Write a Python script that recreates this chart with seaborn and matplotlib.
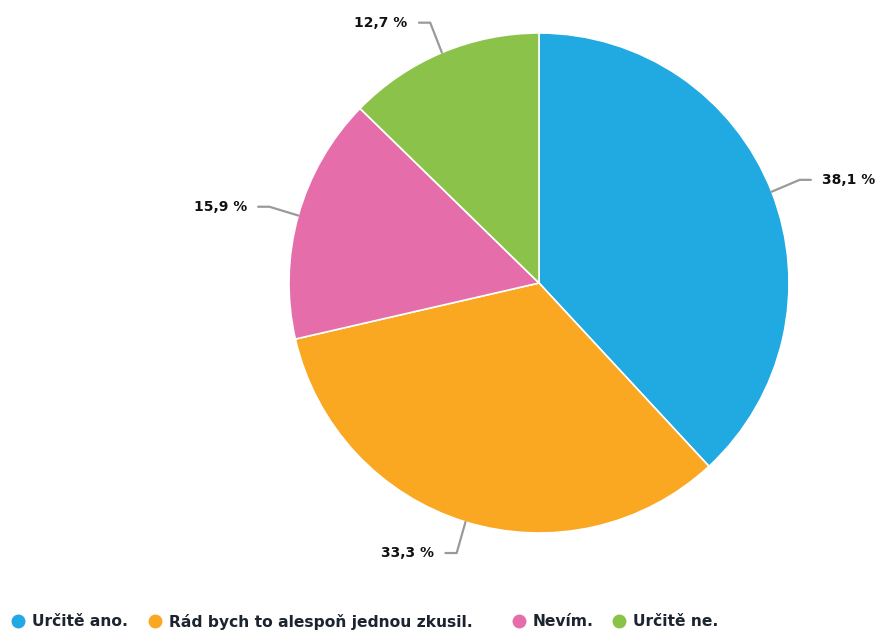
import numpy as np
import matplotlib
matplotlib.use("Agg")
import matplotlib.pyplot as plt
from matplotlib.lines import Line2D
import seaborn as sns

# Survey answers and their shares (percent)
categories = ["Určitě ano.", "Rád bych to alespoň jednou zkusil.", "Nevím.", "Určitě ne."]
shares = [38.1, 33.3, 15.9, 12.7]
colors = ["#21a9e1", "#faa822", "#e56eaa", "#8bc34a"]
# horizontal pixel position of each legend marker
legend_x = [18, 155, 519, 619]

sns.set_theme(style="white")
plt.rcParams["font.family"] = ["DejaVu Sans"]

W, H = 879, 633
fig = plt.figure(figsize=(W / 100, H / 100), dpi=100)
ax = fig.add_axes([0, 0, 1, 1])

wedges, _ = ax.pie(
    shares,
    colors=colors,
    startangle=90,
    counterclock=False,
    radius=1.0,
    wedgeprops=dict(edgecolor="white", linewidth=1.2),
)

# Data limits so the pie sits right of centre with room for the legend below
ax.set_aspect("auto")
ax.set_xlim(-539 / 250, (W - 539) / 250)
ax.set_ylim(-(H - 283) / 250, 283 / 250)
ax.axis("off")

# Percentage labels with bent connector lines
for w, v in zip(wedges, shares):
    ang = np.deg2rad((w.theta1 + w.theta2) / 2)
    cx, cy = np.cos(ang), np.sin(ang)
    side = 1 if cx >= 0 else -1
    bx, by = 1.12 * cx, 1.13 * cy
    ex = bx + side * 0.045
    ax.plot([cx, bx, ex], [cy, by, by], color="#9a9a9a", lw=1.6,
            solid_joinstyle="round", solid_capstyle="round")
    label = f"{v:.1f} %".replace(".", ",")
    ax.text(ex + side * 0.045, by, label, ha="left" if side > 0 else "right",
            va="center", fontsize=10, fontweight="bold", color="#111111")

# Legend row along the bottom edge: round marker followed by label on a common baseline
marker_y = (H - 621) / H
baseline_y = (H - 626.5) / H
for c, name, px in zip(colors, categories, legend_x):
    fig.add_artist(Line2D([px / W], [marker_y], transform=fig.transFigure,
                          marker="o", linestyle="", markersize=9,
                          markerfacecolor=c, markeredgecolor=c))
    fig.text((px + 14) / W, baseline_y, name, ha="left", va="baseline",
             fontsize=11.2, fontweight="bold", color="#1c2430")

fig.savefig("out.png", dpi=100)
